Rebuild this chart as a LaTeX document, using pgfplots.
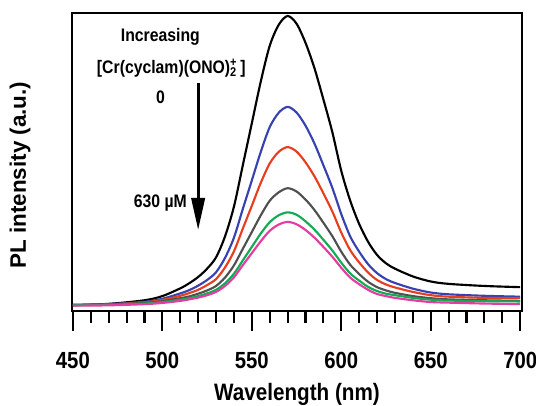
\documentclass[border=0pt]{standalone}
\usepackage{fontspec}
\setmainfont{Liberation Sans}[FakeStretch=0.87]
\newfontfamily\ylfont{Liberation Sans}
\usepackage{pgfplots}
\usepackage{pgfplotstable}
\pgfplotsset{compat=1.18}
\usetikzlibrary{arrows.meta}

\definecolor{cblue}{RGB}{55,65,175}
\definecolor{cred}{RGB}{232,62,32}
\definecolor{cgray}{RGB}{80,80,80}
\definecolor{cgreen}{RGB}{20,170,85}
\definecolor{cpink}{RGB}{228,60,160}

% PL spectra, columns = increasing [Cr(cyclam)(ONO)2]+ (0 ... 630 uM)
\pgfplotstableread{
lam   k      b      r      g      gr     p
450   0.020  0.020  0.020  0.020  0.020  0.018
470   0.024  0.023  0.022  0.022  0.021  0.019
490   0.036  0.031  0.029  0.027  0.025  0.023
500   0.050  0.041  0.037  0.033  0.030  0.027
510   0.076  0.059  0.051  0.043  0.038  0.034
515   0.093  0.070  0.060  0.049  0.043  0.039
520   0.114  0.085  0.071  0.058  0.050  0.045
525   0.142  0.104  0.087  0.069  0.059  0.053
530   0.180  0.130  0.107  0.084  0.071  0.064
535   0.250  0.178  0.146  0.112  0.093  0.084
540   0.350  0.246  0.200  0.153  0.125  0.113
545   0.490  0.343  0.277  0.209  0.170  0.154
550   0.630  0.438  0.353  0.265  0.215  0.194
555   0.770  0.534  0.430  0.321  0.260  0.234
560   0.890  0.617  0.495  0.370  0.298  0.269
565   0.960  0.665  0.534  0.398  0.321  0.290
570   0.990  0.685  0.550  0.412  0.331  0.299
575   0.964  0.666  0.535  0.401  0.323  0.291
580   0.900  0.622  0.499  0.374  0.301  0.272
585   0.815  0.562  0.452  0.339  0.273  0.246
590   0.710  0.489  0.395  0.296  0.239  0.215
595   0.600  0.413  0.334  0.251  0.203  0.182
600   0.470  0.325  0.263  0.199  0.162  0.145
605   0.370  0.250  0.204  0.155  0.126  0.112
610   0.292  0.199  0.163  0.124  0.102  0.090
615   0.232  0.157  0.129  0.098  0.081  0.071
620   0.188  0.127  0.104  0.080  0.067  0.057
625   0.160  0.107  0.089  0.069  0.058  0.050
630   0.142  0.094  0.079  0.061  0.053  0.044
640   0.116  0.075  0.064  0.050  0.044  0.036
650   0.099  0.062  0.053  0.043  0.038  0.030
660   0.091  0.056  0.048  0.039  0.035  0.028
680   0.084  0.051  0.044  0.036  0.033  0.025
700   0.080  0.048  0.043  0.034  0.032  0.023
}\spectra

\begin{document}
\begin{tikzpicture}
\begin{axis}[
    scale only axis,
    width=337.5pt, height=223.5pt,
    xmin=449.5, xmax=701, ymin=0, ymax=1,
    xtick={450,500,...,700},
    minor x tick num=4,
    ytick=\empty,
    tick align=outside,
    xtick pos=bottom,
    major tick length=15pt, minor tick length=9pt,
    every tick/.style={black, line width=1.6pt},
    axis line style={line width=1.8pt},
    /pgf/number format/assume math mode=true,
    xticklabel style={font=\fontsize{17.5}{20}\selectfont\bfseries, yshift=-12.5pt},
    xlabel={Wavelength (nm)},
    xlabel style={font=\fontsize{17.8}{20}\selectfont\bfseries, yshift=-4pt},
    clip=false,
    every axis plot/.append style={line width=1.6pt, smooth, tension=0.5},
]
\addplot[black] table[x=lam,y=k] {\spectra};
\addplot[cblue] table[x=lam,y=b] {\spectra};
\addplot[cred] table[x=lam,y=r] {\spectra};
\addplot[cgray] table[x=lam,y=g] {\spectra};
\addplot[cgreen] table[x=lam,y=gr] {\spectra};
\addplot[cpink] table[x=lam,y=p] {\spectra};

\node[font=\fontsize{13.6}{16}\selectfont\bfseries] at (axis cs:498.9,0.919) {Increasing};
\node[font=\fontsize{13.6}{16}\selectfont\bfseries] at (axis cs:505,0.815) {[Cr(cyclam)(ONO)\rlap{\textsubscript{2}}\textsuperscript{+}\,]};
\node[font=\fontsize{13.6}{16}\selectfont\bfseries] at (axis cs:498.9,0.718) {0};
\node[font=\fontsize{13.6}{16}\selectfont\bfseries] at (axis cs:498.9,0.362) {630 µM};
\draw[line width=2.2pt, -{Triangle[width=10pt,length=24pt]}] (axis cs:520,0.765) -- (axis cs:520,0.272);

\node[font=\ylfont\fontsize{16.8}{20}\selectfont\bfseries, rotate=90] at (axis description cs:-0.1156,0.456) {PL intensity (a.u.)};

\coordinate (bbl) at (axis description cs:-0.16,-0.3188);
\coordinate (btr) at (axis description cs:1.0311,1.0436);
\end{axis}
\pgfresetboundingbox
\path[use as bounding box] (bbl) rectangle (btr);
\end{tikzpicture}
\end{document}
